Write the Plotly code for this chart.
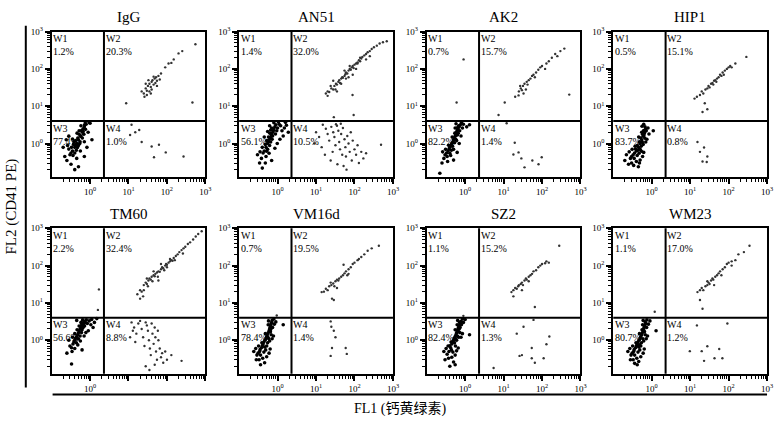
import math
import plotly.graph_objects as go

# ---------------- data ----------------
titles = ["IgG", "AN51", "AK2", "HIP1", "TM60", "VM16d", "SZ2", "WM23"]
pct_w1 = ["1.2%", "1.4%", "0.7%", "0.5%", "2.2%", "0.7%", "1.1%", "1.1%"]
pct_w2 = ["20.3%", "32.0%", "15.7%", "15.1%", "32.4%", "19.5%", "15.2%", "17.0%"]
pct_w3 = ["77.4%", "56.1%", "82.2%", "83.7%", "56.6%", "78.4%", "82.4%", "80.7%"]
pct_w4 = ["1.0%", "10.5%", "1.4%", "0.8%", "8.8%", "1.4%", "1.3%", "1.2%"]

gate_fl1 = 2.3   # vertical quadrant gate
gate_fl2 = 4.0   # horizontal quadrant gate

tick_vals = [1, 10, 100, 1000]
tick_text = ["10<sup>0</sup>", "10<sup>1</sup>", "10<sup>2</sup>", "10<sup>3</sup>"]
tick_text_tm60_x = ["10<sup>0</sup>", " ", " ", " "]

# W3 (double-negative) clusters
igg_w3 = [
    (0.40,0.79),(0.45,1.0),(0.50,1.26),(0.56,1.58),(0.63,2.0),(0.66,2.5),(0.71,2.8),(0.35,0.63),(0.32,0.56),
    (0.38,1.12),(0.42,0.89),(0.48,1.41),(0.52,1.78),(0.60,2.24),(0.33,0.79),(0.28,0.71),(0.44,0.66),(0.50,0.89),
    (0.55,1.12),(0.63,1.41),(0.69,1.78),(0.76,2.4),(0.30,0.50),(0.36,0.48),(0.40,0.56),(0.46,1.9),(0.58,3.0),
    (0.79,3.3),(0.26,0.89),(0.35,1.32),(0.42,1.2),(0.47,0.78),(0.54,1.0),(0.58,1.6),(0.66,2.1),(0.72,3.2),
    (0.37,0.95),(0.52,2.2),(0.22,0.45),(0.25,0.35),(0.20,0.79),(0.32,0.28),(0.45,0.40),(0.56,0.63),(0.71,1.12),
    (0.89,2.0),(1.0,3.5),(0.28,1.58),(0.24,1.26),(0.50,0.24),(0.40,0.20),(0.71,0.45),(1.12,1.26),(0.83,0.79),
    (0.95,3.7),(0.75,3.8),
]
# W1, W2 and W4 events
igg_rest = [
    (25,22),(28,30),(30,26),(32,35),(35,40),(38,33),(40,45),(42,50),(45,38),(48,55),(50,42),(52,60),(55,48),
    (60,65),(30,20),(35,25),(33,50),(40,28),(45,62),(28,40),(22,25),(55,35),(65,52),(70,75),(90,110),(110,140),
    (130,145),(150,180),(200,260),(250,300),(550,460),(8.7,12),(460,12.6),(26,18),(38,22),
    (12,3.2),(15,2.0),(22,1.1),(40,0.83),(46,0.43),(93,0.58),(270,0.45),(19,2.3),(11,1.7),(62,0.93),
]

an51_w3 = [
    (0.55,1.0),(0.60,1.26),(0.65,1.41),(0.70,1.78),(0.75,2.0),(0.80,2.5),(0.85,2.8),(0.50,0.79),(0.45,0.63),
    (0.58,1.12),(0.62,0.89),(0.68,1.58),(0.72,1.3),(0.78,2.24),(0.52,1.2),(0.48,0.95),(0.63,1.9),(0.70,2.6),
    (0.90,3.2),(0.95,2.2),(0.55,0.7),(0.42,0.56),(0.40,0.79),(0.66,1.1),(0.74,1.6),(0.88,1.8),(1.0,2.6),
    (1.1,3.3),(1.2,3.0),(1.3,2.2),(1.5,2.6),(1.7,3.1),(1.9,2.0),(1.4,1.6),(1.15,1.3),(0.98,1.0),(0.85,0.75),
    (0.60,0.55),(0.50,0.45),(0.38,0.40),(0.35,0.60),(0.45,1.5),(0.55,2.1),(0.62,3.0),(0.80,3.6),(1.05,3.8),
    (0.34,0.30),(0.40,0.22),(0.70,0.35),(1.6,3.7),(0.30,0.50),(0.48,0.30),(0.58,1.5),(0.66,2.3),(0.52,0.62),
]
an51_rest = [
    (18,22),(20,25),(22,24),(25,30),(28,28),(30,35),(33,40),(35,38),(38,45),(40,50),(42,42),(45,55),(48,60),
    (50,58),(55,65),(58,72),(60,80),(65,75),(70,90),(75,100),(80,95),(85,110),(90,120),(95,105),(100,130),
    (110,140),(120,150),(130,170),(140,160),(150,190),(160,210),(180,230),(200,250),(220,280),(250,300),
    (280,340),(320,380),(380,420),(450,480),(550,520),(690,550),(24,35),(32,28),(45,40),(60,55),(75,120),
    (110,100),(140,200),(200,180),(28,48),(70,60),(90,70),(55,90),(35,25),(20,19),(89,20),(29,5.1),(95,5.8),
    (120,140),(250,220),
    (15,3.2),(18,2.5),(20,1.8),(22,1.2),(25,2.8),(28,2.0),(30,1.5),(32,0.9),(35,3.0),(38,2.2),(40,1.1),
    (42,0.7),(45,1.8),(48,0.5),(50,2.6),(55,1.3),(58,0.8),(60,0.45),(65,1.6),(70,1.0),(75,0.6),(80,2.0),
    (85,0.35),(90,1.2),(100,0.7),(110,0.5),(120,0.9),(130,0.3),(150,0.6),(170,0.4),(200,0.55),(490,0.93),
    (12,1.5),(14,0.8),(17,0.5),(24,0.35),(27,0.6),(36,0.28),(52,0.25),(62,0.2),(33,3.3),(44,3.4),(10,2.0),
    (9,1.0),
]

ak2_w3 = [
    (0.40,0.79),(0.45,1.0),(0.50,1.26),(0.55,1.58),(0.60,2.0),(0.65,2.5),(0.70,2.8),(0.36,0.63),(0.33,0.56),
    (0.42,0.89),(0.48,1.12),(0.52,1.41),(0.58,1.78),(0.62,2.24),(0.68,3.0),(0.38,0.71),(0.44,0.66),(0.47,0.85),
    (0.53,1.05),(0.57,1.3),(0.63,1.7),(0.72,2.2),(0.75,3.2),(0.30,0.50),(0.34,0.45),(0.40,0.55),(0.46,1.5),
    (0.55,2.6),(0.60,1.2),(0.66,1.9),(0.50,0.70),(0.42,0.48),(0.37,0.90),(0.31,0.70),(0.28,0.40),(0.26,0.60),
    (0.50,0.36),(0.62,0.58),(0.78,1.6),(0.85,2.6),(0.90,3.3),(0.25,0.30),(0.35,0.33),(0.58,3.4),(1.1,2.8),
    (1.3,3.2),(0.22,0.16),(0.70,1.0),(0.80,3.6),(0.64,2.7),(0.54,1.9),
]
ak2_rest = [
    (0.91,180),(0.6,12.6),
    (7.4,5.8),(10.7,12.6),(24.5,19.5),(25,25),(28,30),(30,27),(32,35),(35,40),(38,28),(40,45),(45,50),
    (50,55),(55,65),(60,70),(70,80),(80,95),(90,110),(100,120),(130,140),(150,160),(180,200),(220,250),
    (300,300),(380,350),(510,20.5),(27,35),(33,22),(42,38),(65,60),(120,100),(250,220),(20,18),
    (19.5,1.05),(18,0.51),(24.5,0.58),(29,0.4),(35,0.23),(56,0.35),(81,0.28),(98,0.43),(12,3.5),
]

hip1_w3 = [
    (0.45,0.79),(0.50,1.0),(0.55,1.26),(0.60,1.58),(0.65,2.0),(0.70,2.5),(0.40,0.63),(0.36,0.56),(0.42,0.89),
    (0.48,1.12),(0.52,1.41),(0.58,1.78),(0.62,2.24),(0.67,2.8),(0.38,0.71),(0.44,0.66),(0.47,0.55),(0.53,0.85),
    (0.57,1.1),(0.63,1.7),(0.72,2.2),(0.33,0.50),(0.30,0.45),(0.35,0.40),(0.46,1.5),(0.55,2.0),(0.60,0.95),
    (0.66,1.4),(0.50,0.70),(0.42,0.48),(0.37,0.85),(0.31,0.70),(0.28,0.40),(0.26,0.60),(0.50,0.36),(0.40,0.33),
    (0.62,0.58),(0.75,1.3),(0.80,2.6),(0.25,0.28),(0.30,0.30),(0.56,2.9),(0.70,1.1),(0.58,0.45),(0.22,0.50),
    (0.34,0.26),(0.45,0.24),(0.48,0.30),(0.85,1.8),(1.1,2.2),(0.20,0.35),(0.62,3.3),(0.64,1.9),(0.54,0.62),
]
hip1_rest = [
    (13,16),(15,18),(18,20),(20,25),(22,22),(25,28),(28,30),(30,35),(32,32),(35,40),(38,42),(40,38),(42,48),
    (45,50),(50,55),(55,60),(60,70),(65,65),(70,80),(80,90),(90,100),(100,110),(110,120),(120,110),(150,140),
    (290,210),(21,7),(28,8.3),(24,12),(48,45),(75,70),
    (15.5,1.1),(18,0.6),(23,0.78),(28,0.45),(21,0.33),(27,0.32),
]

tm60_w3 = [
    (0.40,1.0),(0.45,1.26),(0.50,1.58),(0.55,2.0),(0.60,2.5),(0.65,2.8),(0.70,3.2),(0.36,0.79),(0.33,0.63),
    (0.42,1.12),(0.48,1.41),(0.52,1.78),(0.58,2.24),(0.62,1.9),(0.68,2.6),(0.75,3.0),(0.80,3.5),(0.38,0.90),
    (0.44,0.85),(0.50,1.1),(0.55,1.3),(0.60,1.6),(0.66,2.2),(0.72,2.4),(0.85,2.8),(0.95,3.3),(1.1,3.6),
    (1.3,3.0),(0.35,1.2),(0.40,1.5),(0.46,1.9),(0.52,2.4),(0.58,3.0),(0.64,3.5),(0.30,0.70),(0.34,0.50),
    (0.40,0.60),(0.48,0.75),(0.56,0.95),(0.70,1.3),(0.90,1.8),(1.2,2.2),(0.33,0.23),(0.28,1.0),(0.45,3.4),
    (1.05,2.6),(0.78,1.6),(1.5,3.8),(0.62,0.55),(0.25,0.45),
]
tm60_rest = [
    (1.7,23),(1.6,6.5),
    (17,17),(20,22),(22,20),(25,30),(28,35),(30,32),(33,40),(35,45),(38,42),(40,50),(45,55),(48,52),(50,60),
    (55,65),(60,70),(65,68),(70,80),(75,90),(80,85),(90,100),(95,110),(100,105),(110,120),(120,130),(130,140),
    (140,135),(150,160),(170,180),(190,200),(210,230),(240,260),(270,290),(300,320),(350,380),(400,420),
    (480,500),(560,600),(650,700),(800,830),(25,22),(32,28),(42,38),(58,50),(85,75),(120,150),(160,140),
    (30,45),(45,70),(70,110),(20,13),(60,40),(100,90),(260,210),(24,15),
    (12,3.0),(14,2.2),(16,1.5),(15,0.9),(18,2.8),(20,3.3),(22,2.0),(24,1.2),(26,0.7),(28,3.0),(30,2.5),
    (32,1.8),(34,1.0),(36,0.6),(38,0.4),(40,2.8),(42,1.5),(45,0.8),(48,2.2),(50,1.2),(52,0.5),(55,0.3),
    (58,1.8),(60,1.0),(65,0.6),(70,0.35),(75,0.45),(80,0.25),(90,0.5),(100,0.3),(130,0.4),(240,0.28),
    (28,0.2),(35,0.16),(48,0.22),(13,1.8),(11,1.2),
]

vm16d_w3 = [
    (0.42,0.79),(0.47,1.0),(0.52,1.26),(0.57,1.58),(0.62,2.0),(0.66,2.5),(0.70,3.0),(0.38,0.63),(0.35,0.56),
    (0.44,0.89),(0.50,1.12),(0.54,1.41),(0.60,1.78),(0.64,2.24),(0.68,2.8),(0.40,0.71),(0.46,0.66),(0.49,0.55),
    (0.55,0.85),(0.59,1.1),(0.65,1.7),(0.74,2.2),(0.34,0.50),(0.31,0.45),(0.36,0.40),(0.48,1.5),(0.57,2.6),
    (0.62,0.95),(0.68,1.4),(0.52,0.70),(0.44,0.48),(0.39,0.85),(0.32,0.70),(0.29,0.40),(0.27,0.60),(0.52,0.36),
    (0.41,0.33),(0.64,0.58),(0.78,1.3),(0.82,2.7),(0.28,0.30),(0.33,0.30),(0.58,3.3),(0.72,1.1),(0.60,0.45),
    (0.24,0.50),(0.36,0.22),(0.46,0.25),(0.72,3.4),(0.90,3.1),(1.4,2.6),(0.80,3.7),(0.66,1.95),(0.56,1.2),
]
vm16d_rest = [
    (0.95,4.6),
    (14,19.5),(16,20),(18,24),(20,22),(22,28),(25,30),(28,33),(30,28),(32,38),(35,42),(38,40),(40,45),
    (45,50),(50,55),(55,62),(60,70),(70,80),(80,90),(90,110),(100,120),(120,140),(150,170),(180,200),
    (220,250),(280,290),(430,340),(52,105),(29,12),(26,13),(35,25),(65,55),(130,150),(24,35),(70,60),
    (24,3.2),(25,2.3),(29,1.8),(32,1.2),(26,0.62),(59,0.62),(63,0.43),(24,0.38),
]

sz2_w3 = [
    (0.50,1.0),(0.55,1.26),(0.60,1.58),(0.65,2.0),(0.70,2.5),(0.75,2.8),(0.78,3.2),(0.45,0.79),(0.42,0.63),
    (0.52,1.12),(0.58,1.41),(0.62,1.78),(0.68,2.24),(0.72,3.0),(0.48,0.90),(0.53,0.85),(0.57,1.1),(0.63,1.3),
    (0.67,1.7),(0.74,2.2),(0.80,2.6),(0.40,0.71),(0.44,0.55),(0.38,0.50),(0.55,1.9),(0.62,2.6),(0.68,1.2),
    (0.73,1.6),(0.56,0.70),(0.48,0.48),(0.43,0.90),(0.36,0.70),(0.34,0.42),(0.32,0.60),(0.55,0.40),(0.45,0.35),
    (0.66,0.62),(0.85,1.5),(0.90,3.0),(0.30,0.30),(0.37,0.33),(0.64,3.4),(0.78,1.2),(0.60,0.52),(0.28,0.50),
    (0.50,0.26),(0.55,0.22),(0.40,0.20),(1.0,3.6),(0.85,3.7),(1.3,1.4),(0.70,2.0),(0.60,1.0),
]
sz2_rest = [
    (0.9,4.5),
    (16,19.5),(18,22),(20,25),(22,24),(25,30),(28,32),(30,35),(32,30),(35,40),(38,45),(40,42),(45,50),
    (50,55),(55,60),(60,70),(70,75),(80,90),(90,100),(100,110),(120,115),(280,340),(65,7.8),(24,28),(30,22),
    (45,38),(18,15),(130,130),(150,120),
    (60,3.5),(33,2.3),(22,1.5),(155,1.26),(130,0.78),(54,0.62),(26,0.38),(54,0.33),(110,0.33),(65,0.25),
    (5.5,0.18),(30,0.4),
]

wm23_w3 = [
    (0.42,0.79),(0.47,1.0),(0.52,1.26),(0.57,1.58),(0.62,2.0),(0.66,2.5),(0.70,2.8),(0.38,0.63),(0.35,0.56),
    (0.44,0.89),(0.50,1.12),(0.55,1.41),(0.60,1.78),(0.64,2.24),(0.68,3.1),(0.40,0.71),(0.46,0.66),(0.49,0.55),
    (0.54,0.85),(0.59,1.1),(0.65,1.7),(0.74,2.2),(0.34,0.50),(0.31,0.45),(0.36,0.40),(0.48,1.5),(0.58,2.6),
    (0.62,0.95),(0.68,1.4),(0.52,0.70),(0.44,0.48),(0.39,0.85),(0.32,0.70),(0.29,0.40),(0.27,0.60),(0.52,0.36),
    (0.41,0.33),(0.64,0.58),(0.78,1.3),(0.82,2.7),(0.28,0.30),(0.33,0.30),(0.60,3.4),(0.72,1.1),(0.60,0.45),
    (0.24,0.50),(0.36,0.24),(0.46,0.27),(0.75,3.5),(0.90,3.3),(1.3,1.8),(0.42,0.22),(0.56,1.9),(0.48,0.75),
]
wm23_rest = [
    (1.2,5.8),
    (15.5,19.5),(18,22),(20,25),(22,22),(25,28),(28,30),(30,35),(32,32),(35,40),(38,45),(40,42),(45,50),
    (50,55),(55,62),(60,70),(70,80),(80,90),(90,110),(100,120),(120,130),(150,140),(180,200),(250,230),
    (350,340),(21,7),(28,38),(42,30),(65,55),(18,12),(120,100),
    (15,2.5),(93,2.8),(9.8,0.51),(20,0.51),(23,0.28),(28,0.69),(43,0.33),(57,0.58),(69,0.33),
]

panel_w3 = [igg_w3, an51_w3, ak2_w3, hip1_w3, tm60_w3, vm16d_w3, sz2_w3, wm23_w3]
panel_rest = [igg_rest, an51_rest, ak2_rest, hip1_rest, tm60_rest, vm16d_rest, sz2_rest, wm23_rest]

# ---------------- layout geometry ----------------
W, H = 779, 422
col_left_px = [52, 241, 430, 618]
panel_w_px = 155
row_top_px = [25, 225]
panel_h_px = 148
x_range = [-1, 3]
y_range = [-0.9, 3]

SERIF = "Liberation Serif, Times New Roman, Noto Sans CJK SC, serif"

minor_vals = [m * 10 ** e for e in range(-1, 3) for m in range(2, 10)]

fig = go.Figure()
layout_axes = {}
annotations = []
shapes = []

for i in range(len(titles)):
    n = i + 1
    r, c = divmod(i, 4)
    xa = "x" if n == 1 else f"x{n}"
    ya = "y" if n == 1 else f"y{n}"

    rest = panel_rest[i]
    fig.add_trace(go.Scatter(
        x=[p[0] for p in rest], y=[p[1] for p in rest], mode="markers", xaxis=xa, yaxis=ya,
        marker=dict(size=2.4, color="#333333"), showlegend=False, hoverinfo="skip"))
    w3 = panel_w3[i]
    fig.add_trace(go.Scatter(
        x=[p[0] for p in w3], y=[p[1] for p in w3], mode="markers", xaxis=xa, yaxis=ya,
        marker=dict(size=3.6, color="#000000"), showlegend=False, hoverinfo="skip"))

    x0 = col_left_px[c] / W
    x1 = (col_left_px[c] + panel_w_px) / W
    y1 = 1 - row_top_px[r] / H
    y0 = 1 - (row_top_px[r] + panel_h_px) / H

    common = dict(type="log", showline=True, mirror=True, linecolor="black", linewidth=2,
                  ticks="outside", ticklen=5, tickwidth=1.5, tickcolor="black",
                  showgrid=False, zeroline=False, tickvals=tick_vals,
                  tickfont=dict(family=SERIF, size=9, color="black"),
                  minor=dict(tickvals=minor_vals, ticks="outside", ticklen=3,
                             tickwidth=1, tickcolor="black", showgrid=False))
    xkey = "xaxis" if n == 1 else f"xaxis{n}"
    ykey = "yaxis" if n == 1 else f"yaxis{n}"
    layout_axes[xkey] = dict(common, domain=[x0, x1], anchor=ya, range=x_range,
                             ticktext=tick_text_tm60_x if titles[i] == "TM60" else tick_text)
    layout_axes[ykey] = dict(common, domain=[y0, y1], anchor=xa, range=y_range,
                             ticktext=tick_text)

    # quadrant gate lines (data coordinates)
    shapes.append(dict(type="line", xref=xa, yref=f"{ya} domain", x0=gate_fl1, x1=gate_fl1, y0=0, y1=1,
                       line=dict(color="black", width=2)))
    shapes.append(dict(type="line", xref=f"{xa} domain", yref=ya, x0=0, x1=1, y0=gate_fl2, y1=gate_fl2,
                       line=dict(color="black", width=2)))

    gxd = (math.log10(gate_fl1) - x_range[0]) / (x_range[1] - x_range[0])
    gyd = (math.log10(gate_fl2) - y_range[0]) / (y_range[1] - y_range[0])
    qfont = dict(family=SERIF, size=10, color="black")
    for (qx, qy, label) in [(0.0, 1.0, f"W1<br>{pct_w1[i]}"), (gxd, 1.0, f"W2<br>{pct_w2[i]}"),
                            (0.0, gyd, f"W3<br>{pct_w3[i]}"), (gxd, gyd, f"W4<br>{pct_w4[i]}")]:
        annotations.append(dict(text=label, xref=f"{xa} domain", yref=f"{ya} domain",
                                x=qx + 0.005, y=qy - 0.005, xanchor="left", yanchor="top",
                                align="left", showarrow=False, font=qfont, borderpad=0))

    # panel title
    annotations.append(dict(text=titles[i], xref="paper", yref="paper",
                            x=(x0 + x1) / 2, y=y1 + 15 / H, xanchor="center", yanchor="middle",
                            showarrow=False, font=dict(family=SERIF, size=15, color="black")))

# axis titles
annotations.append(dict(text="FL2 (CD41 PE)", xref="paper", yref="paper", x=12 / W, y=1 - 203 / H,
                        textangle=-90, showarrow=False, xanchor="center", yanchor="middle",
                        font=dict(family=SERIF, size=15, color="black")))
annotations.append(dict(text="FL1 (钙黄绿素)", xref="paper", yref="paper", x=404 / W, y=1 - 408 / H,
                        showarrow=False, xanchor="center", yanchor="middle",
                        font=dict(family=SERIF, size=14, color="black")))

# outer bracket lines
shapes.append(dict(type="line", xref="paper", yref="paper", x0=26 / W, x1=26 / W,
                   y0=1 - 19 / H, y1=1 - 387 / H, line=dict(color="black", width=2)))
shapes.append(dict(type="line", xref="paper", yref="paper", x0=53 / W, x1=773 / W,
                   y0=1 - 394 / H, y1=1 - 394 / H, line=dict(color="black", width=2)))

fig.update_layout(width=W, height=H, margin=dict(l=0, r=0, t=0, b=0),
                  paper_bgcolor="white", plot_bgcolor="white",
                  annotations=annotations, shapes=shapes, **layout_axes)

fig.write_html("out.html")
